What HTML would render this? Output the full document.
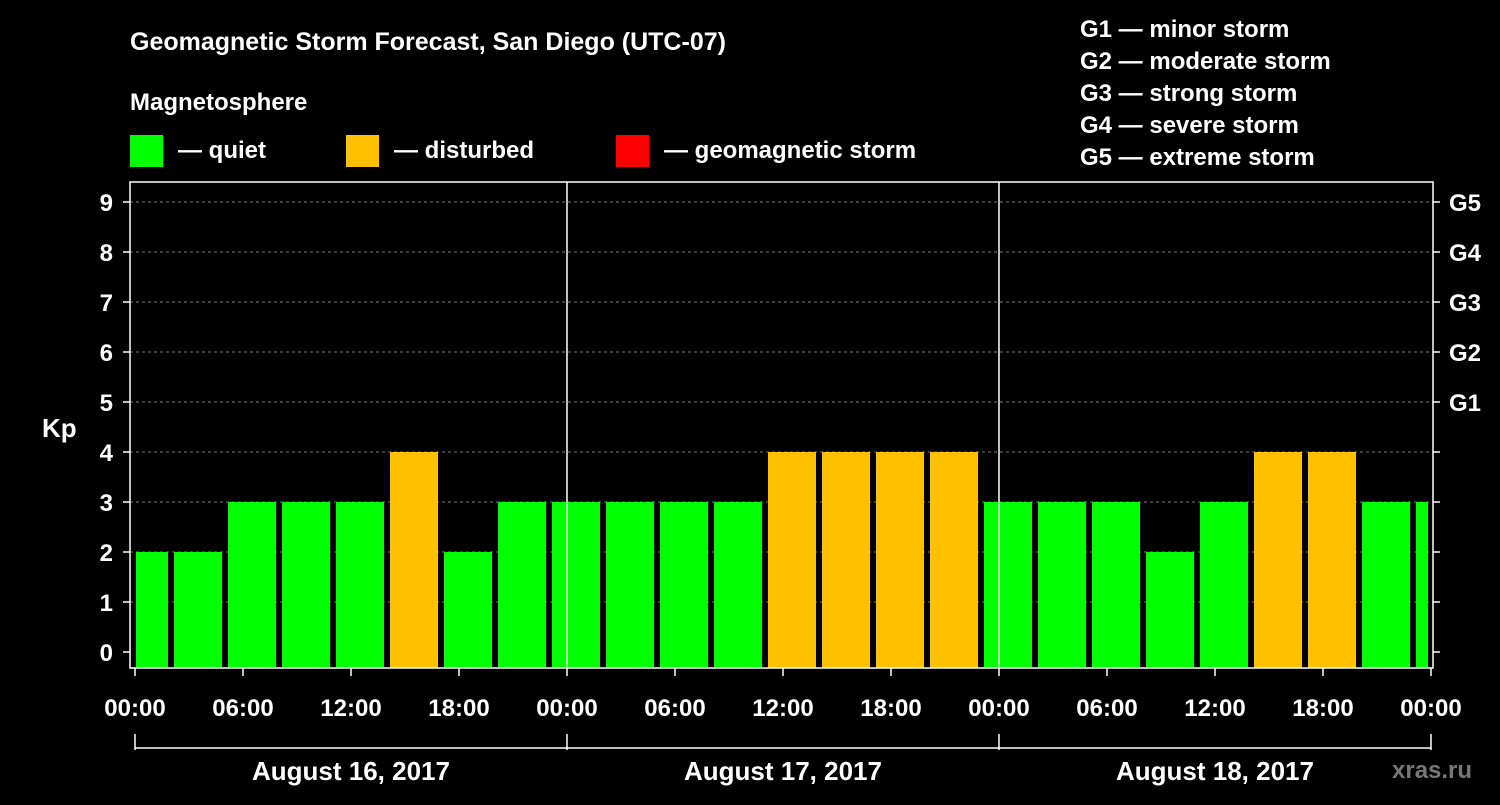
<!DOCTYPE html>
<html><head><meta charset="utf-8"><style>
body{margin:0;background:#000;width:1500px;height:800px;overflow:hidden}
svg text{font-family:"Liberation Sans",Arial,sans-serif;font-weight:bold;fill:#fff}
</style></head><body>
<svg id="c" width="1500" height="800" xmlns="http://www.w3.org/2000/svg">
<rect width="1500" height="800" fill="#000"/>
<text x="130" y="50" font-size="25">Geomagnetic Storm Forecast, San Diego (UTC-07)</text>
<text x="130" y="110" font-size="24">Magnetosphere</text>
<g><rect x="130" y="135" width="33" height="32" fill="#00ff00"/><text x="178" y="158" font-size="24">— quiet</text></g>
<g><rect x="346" y="135" width="33" height="32" fill="#ffc000"/><text x="394" y="158" font-size="24">— disturbed</text></g>
<g><rect x="616" y="135" width="33" height="32" fill="#ff0000"/><text x="664" y="158" font-size="24">— geomagnetic storm</text></g>
<g font-size="24">
<text x="1080" y="37">G1 — minor storm</text>
<text x="1080" y="69">G2 — moderate storm</text>
<text x="1080" y="101">G3 — strong storm</text>
<text x="1080" y="133">G4 — severe storm</text>
<text x="1080" y="165">G5 — extreme storm</text>
</g>
<text x="42" y="437" font-size="26">Kp</text>
<text x="1392" y="778" font-size="24" fill="#888" style="fill:#777">xras.ru</text>
<g id="grid"></g><g id="bars"></g><g id="axes"></g>
</svg>
<script>
const kpValues=[2,2,3,3,3,4,2,3,3,3,3,3,4,4,4,4,3,3,3,2,3,4,4,3,3];
const yTicks=[0,1,2,3,4,5,6,7,8,9];
const gLabels=["G1","G2","G3","G4","G5"];
const xTickLabels=["00:00","06:00","12:00","18:00","00:00","06:00","12:00","18:00","00:00","06:00","12:00","18:00","00:00"];
const dayLabels=["August 16, 2017","August 17, 2017","August 18, 2017"];
const firstBarStartHour=-1, barHours=3;
const NS="http://www.w3.org/2000/svg";
const L=130,R=1433,T=182,B=668,X0=135,PX_H=18;
const y=v=>652-v*50, x=h=>X0+h*PX_H;
function mk(tag,at,parent,txt){const e=document.createElementNS(NS,tag);for(const k in at)e.setAttribute(k,at[k]);if(txt!==undefined)e.textContent=txt;document.getElementById(parent).appendChild(e);return e;}
yTicks.forEach(v=>{
  if(v>=1){const g=mk('line',{x1:L,x2:R,y1:y(v),y2:y(v),stroke:'#777','stroke-dasharray':'3,3','stroke-width':1},'grid');
  
  }
  const t=mk('line',{x1:L-7,x2:L,y1:y(v),y2:y(v),stroke:'#fff','stroke-width':1.5},'axes');
  
  
  const lb=mk('text',{x:L-17,y:y(v)+9,'font-size':24,'text-anchor':'end'},'axes',String(v));
  
  
  const rt=mk('line',{x1:R,x2:R+7,y1:y(v),y2:y(v),stroke:'#fff','stroke-width':1.5},'axes');
  
  
  if(v>=5){const g=mk('text',{x:1449,y:y(v)+9,'font-size':24},'axes',gLabels[v-5]);
  
  }
});
kpValues.forEach((v,i)=>{
  const h0=firstBarStartHour+i*barHours;
  let x1=x(h0)+3, x2=x(h0+barHours)-3;
  x1=Math.max(x1,L+6); x2=Math.min(x2,R-5);
  const r=mk('rect',{x:x1,y:y(v),width:x2-x1,height:B-y(v),fill:v>=5?'#ff0000':(v>=4?'#ffc000':'#00ff00')},'bars');
  
  
});
[1,2].forEach(d=>{const l=mk('line',{x1:x(d*24),x2:x(d*24),y1:T,y2:B,stroke:'#fff','stroke-width':1.5},'axes');

});
const fr=mk('rect',{x:L,y:T,width:R-L,height:B-T,fill:'none',stroke:'#fff','stroke-width':1.5},'axes');


xTickLabels.forEach((s,i)=>{
  const xx=x(i*6);
  const t=mk('line',{x1:xx,x2:xx,y1:B,y2:B+8,stroke:'#fff','stroke-width':1.5},'axes');
  
  
  const lb=mk('text',{x:xx,y:716,'font-size':24,'text-anchor':'middle'},'axes',s);
  
  
});
const bl=mk('line',{x1:x(0),x2:x(72),y1:748,y2:748,stroke:'#fff','stroke-width':1.5},'axes');


[0,1,2,3].forEach(d=>{const l=mk('line',{x1:x(d*24),x2:x(d*24),y1:734,y2:750,stroke:'#fff','stroke-width':1.5},'axes');

});
dayLabels.forEach((s,d)=>{const t=mk('text',{x:x(d*24+12),y:780,'font-size':26,'text-anchor':'middle'},'axes',s);

});
</script>
</body></html>
